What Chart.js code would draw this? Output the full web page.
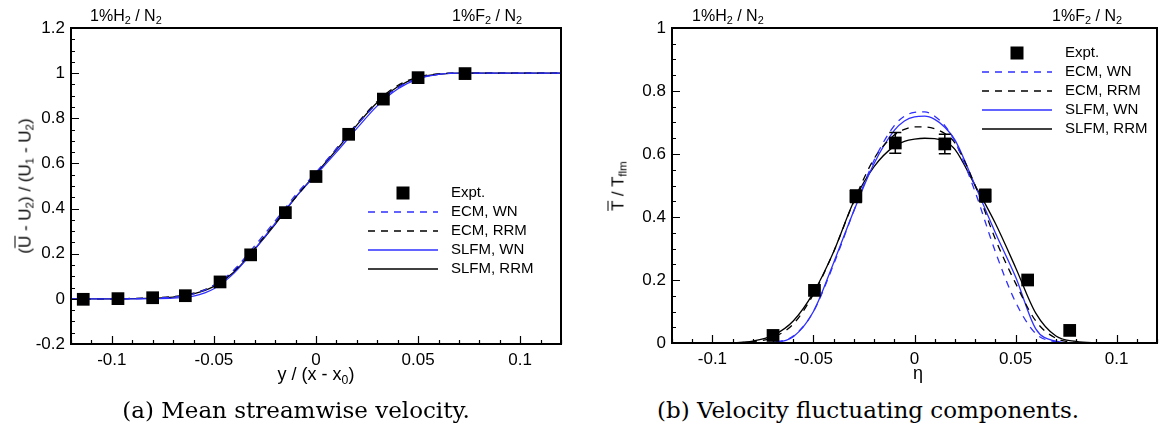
<!DOCTYPE html>
<html>
<head>
<meta charset="utf-8">
<script src="https://cdn.jsdelivr.net/npm/chart.js@4.4.1/dist/chart.umd.min.js"></script>
<style>
  html, body { margin: 0; padding: 0; background: #fff; }
  #wrap { position: relative; width: 1166px; height: 429px; overflow: hidden;
          font-family: "Liberation Sans", Arial, sans-serif; color: #000; }
  canvas { position: absolute; top: 0; }
  .lbl { position: absolute; white-space: nowrap; font-size: 16px; line-height: 1; }
  .lbl sub { font-size: 68%; vertical-align: -0.3em; line-height: 0; }
  .ytitle { transform: translate(-50%, -50%) rotate(-90deg); font-size: 17px; }
  .xtitle { transform: translate(-50%, -50%); font-size: 18px; }
  .cap { position: absolute; white-space: nowrap; font-family: "DejaVu Serif", serif;
         font-size: 23px; line-height: 1; transform: translate(-50%, -50%); }
  .ov { text-decoration: overline; }
</style>
</head>
<body>
<div id="wrap">
  <canvas id="velChart" width="583" height="390" style="left:0"></canvas>
  <canvas id="tempChart" width="583" height="390" style="left:583px"></canvas>

  <div class="lbl" style="left:90px; top:8px">1%H<sub>2</sub> / N<sub>2</sub></div>
  <div class="lbl" style="right:644px; top:8px">1%F<sub>2</sub> / N<sub>2</sub></div>
  <div class="lbl" style="left:692px; top:8px">1%H<sub>2</sub> / N<sub>2</sub></div>
  <div class="lbl" style="right:44px; top:8px">1%F<sub>2</sub> / N<sub>2</sub></div>

  <div class="lbl xtitle" style="left:316px; top:374px">y / (x - x<sub>0</sub>)</div>
  <div class="lbl xtitle" style="left:918px; top:373px">&eta;</div>
  <div class="lbl ytitle" style="left:25px; top:186px">(<span class="ov">U</span> - U<sub>2</sub>) / (U<sub>1</sub> - U<sub>2</sub>)</div>
  <div class="lbl ytitle" style="left:618px; top:186px"><span class="ov">T</span> / T<sub>flm</sub></div>

  <div class="cap" style="left:296px; top:410px">(a) Mean streamwise velocity.</div>
  <div class="cap" style="left:868px; top:410px">(b) Velocity fluctuating components.</div>
</div>
<script>
// tick labels shared by both panels
const xTickVals = [-0.1, -0.05, 0, 0.05, 0.1];
const velYTicks = [-0.2, 0, 0.2, 0.4, 0.6, 0.8, 1, 1.2];
const tmpYTicks = [0, 0.2, 0.4, 0.6, 0.8, 1];

// ---- (a) mean streamwise velocity ----
const velGrid = [-0.12, -0.11, -0.10, -0.09, -0.08, -0.07, -0.06, -0.05, -0.04, -0.03, -0.02, -0.01,
                 0, 0.01, 0.02, 0.03, 0.04, 0.05, 0.06, 0.07, 0.08, 0.09, 0.10, 0.11, 0.12];
const velEcmWn   = [0, 0, 0, 0.001, 0.004, 0.008, 0.022, 0.06, 0.13, 0.235, 0.345, 0.46,
                    0.56, 0.665, 0.77, 0.865, 0.935, 0.978, 0.995, 1, 1, 1, 1, 1, 1];
const velEcmRrm  = [0, 0, 0, 0.002, 0.005, 0.01, 0.025, 0.06, 0.125, 0.225, 0.335, 0.45,
                    0.555, 0.665, 0.775, 0.875, 0.945, 0.983, 0.997, 1, 1, 1, 1, 1, 1];
const velSlfmWn  = [0, 0, 0, 0, 0.001, 0.003, 0.012, 0.045, 0.115, 0.22, 0.335, 0.45,
                    0.55, 0.65, 0.755, 0.855, 0.93, 0.975, 0.995, 1, 1, 1, 1, 1, 1];
const velSlfmRrm = [0, 0, 0, 0.001, 0.003, 0.008, 0.022, 0.055, 0.12, 0.22, 0.33, 0.45,
                    0.555, 0.66, 0.77, 0.87, 0.94, 0.98, 0.995, 1, 1, 1, 1, 1, 1];
const velExptX = [-0.114, -0.097, -0.080, -0.064, -0.047, -0.032, -0.015, 0.000, 0.016, 0.033, 0.050, 0.073];
const velExptY = [-0.002, 0.001, 0.005, 0.014, 0.075, 0.195, 0.382, 0.542, 0.729, 0.885, 0.98, 0.998];

// ---- (b) temperature ----
const tmpGrid = [-0.12, -0.10, -0.09, -0.08, -0.07, -0.06, -0.05, -0.04, -0.03, -0.02, -0.01, -0.005,
                 0, 0.005, 0.01, 0.015, 0.02, 0.03, 0.04, 0.05, 0.06, 0.07, 0.08, 0.09, 0.10, 0.12];
const tmpEcmWn   = [0, 0, 0, 0, 0.003, 0.022, 0.10, 0.25, 0.42, 0.58, 0.69, 0.72,
                    0.732, 0.734, 0.72, 0.69, 0.64, 0.48, 0.29, 0.13, 0.03, 0.004, 0, 0, 0, 0];
const tmpEcmRrm  = [0, 0, 0.001, 0.004, 0.018, 0.06, 0.155, 0.29, 0.45, 0.585, 0.66, 0.678,
                    0.686, 0.686, 0.68, 0.665, 0.635, 0.50, 0.33, 0.19, 0.07, 0.015, 0.002, 0, 0, 0];
const tmpSlfmWn  = [0, 0, 0, 0, 0.002, 0.02, 0.10, 0.255, 0.42, 0.57, 0.675, 0.705,
                    0.718, 0.72, 0.71, 0.685, 0.645, 0.50, 0.35, 0.21, 0.045, 0.006, 0, 0, 0, 0];
const tmpSlfmRrm = [0, 0, 0.001, 0.006, 0.024, 0.07, 0.16, 0.29, 0.45, 0.56, 0.625, 0.64,
                    0.647, 0.65, 0.649, 0.64, 0.615, 0.50, 0.38, 0.24, 0.095, 0.022, 0.005, 0.001, 0, 0];
const tmpExptX   = [-0.070, -0.0495, -0.029, -0.0095, 0.015, 0.035, 0.056, 0.0768];
const tmpExptY   = [0.024, 0.167, 0.466, 0.635, 0.632, 0.468, 0.200, 0.040];
const tmpExptErr = [0, 0, 0.02, 0.033, 0.031, 0.02, 0, 0];

const BLUE = "#2f2fff";
const FONT = '"Liberation Sans", Arial, sans-serif';

const pts = (xs, ys) => xs.map((x, i) => ({ x: x, y: ys[i] }));
const fmt = v => String(+v.toFixed(3));

function curve(label, xs, ys, color, dashed) {
  return {
    label: label,
    data: pts(xs, ys),
    showLine: true,
    borderColor: color,
    borderWidth: 1.3,
    borderDash: dashed ? [7, 6] : [],
    pointRadius: 0,
    cubicInterpolationMode: "monotone",
    fill: false,
  };
}

function expt(xs, ys, errs) {
  return {
    label: "Expt.",
    data: pts(xs, ys),
    errors: errs,
    showLine: false,
    pointStyle: "rect",
    pointRadius: 9,
    backgroundColor: "#000",
    borderWidth: 0,
  };
}

// box around the plot + inward ticks on bottom/left
const frameTicks = {
  id: "frameTicks",
  afterDatasetsDraw(chart, args, o) {
    const { ctx, chartArea: a, scales: { x, y } } = chart;
    ctx.save();
    ctx.strokeStyle = "#000";
    ctx.lineWidth = 1.2;
    ctx.beginPath();
    for (let i = Math.ceil(x.min / o.xMinor - 1e-6); i <= Math.floor(x.max / o.xMinor + 1e-6); i++) {
      const v = i * o.xMinor;
      const major = Math.abs(v / o.xMajor - Math.round(v / o.xMajor)) < 1e-6;
      const px = Math.round(x.getPixelForValue(v)) + 0.5;
      ctx.moveTo(px, a.bottom);
      ctx.lineTo(px, a.bottom - (major ? 8 : 4));
    }
    for (let i = Math.ceil(y.min / o.yMinor - 1e-6); i <= Math.floor(y.max / o.yMinor + 1e-6); i++) {
      const v = i * o.yMinor;
      const major = Math.abs(v / o.yMajor - Math.round(v / o.yMajor)) < 1e-6;
      const py = Math.round(y.getPixelForValue(v)) + 0.5;
      ctx.moveTo(a.left, py);
      ctx.lineTo(a.left + (major ? 8 : 4), py);
    }
    ctx.stroke();
    ctx.lineWidth = 2;
    ctx.strokeRect(a.left, a.top, a.right - a.left, a.bottom - a.top);
    ctx.restore();
  },
};

const errorBars = {
  id: "errorBars",
  afterDatasetsDraw(chart) {
    const { ctx, scales: { x, y } } = chart;
    ctx.save();
    ctx.strokeStyle = "#000";
    ctx.lineWidth = 1.5;
    chart.data.datasets.forEach(ds => {
      if (!ds.errors) return;
      ds.data.forEach((p, i) => {
        const e = ds.errors[i];
        if (!e) return;
        const px = x.getPixelForValue(p.x);
        const y0 = y.getPixelForValue(p.y - e), y1 = y.getPixelForValue(p.y + e);
        ctx.beginPath();
        ctx.moveTo(px, y0); ctx.lineTo(px, y1);
        ctx.moveTo(px - 6, y0); ctx.lineTo(px + 6, y0);
        ctx.moveTo(px - 6, y1); ctx.lineTo(px + 6, y1);
        ctx.stroke();
      });
    });
    ctx.restore();
  },
};

const boxLegend = {
  id: "boxLegend",
  afterDraw(chart, args, o) {
    const ctx = chart.ctx;
    const mid = (o.lineX0 + o.lineX1) / 2;
    ctx.save();
    ctx.font = "15px " + FONT;
    ctx.textBaseline = "middle";
    chart.data.datasets.forEach((ds, i) => {
      const yy = o.top + i * o.gap;
      if (ds.showLine) {
        ctx.strokeStyle = ds.borderColor;
        ctx.lineWidth = ds.borderWidth;
        ctx.setLineDash(ds.borderDash);
        ctx.beginPath();
        ctx.moveTo(o.lineX0, yy);
        ctx.lineTo(o.lineX1, yy);
        ctx.stroke();
        ctx.setLineDash([]);
      } else {
        ctx.fillStyle = "#000";
        ctx.fillRect(mid - 6.5, yy - 6.5, 13, 13);
      }
      ctx.fillStyle = "#000";
      ctx.fillText(ds.label, o.textX, yy);
    });
    ctx.restore();
  },
};

function buildChart(id, datasets, o) {
  const tickFont = { family: FONT, size: 17 };
  return new Chart(document.getElementById(id), {
    type: "scatter",
    data: { datasets: datasets },
    options: {
      responsive: false,
      animation: false,
      events: [],
      layout: { padding: { top: o.padTop, right: o.padRight, left: 0, bottom: 0 } },
      plugins: {
        legend: { display: false },
        tooltip: { enabled: false },
        boxLegend: o.legend,
        frameTicks: { xMinor: 0.01, xMajor: 0.05, yMinor: 0.05, yMajor: 0.2 },
      },
      scales: {
        x: {
          type: "linear", bounds: "data", min: -0.12, max: 0.12,
          grid: { display: false, drawTicks: false }, border: { display: false },
          ticks: { padding: 6, font: tickFont, color: "#000", callback: fmt, maxRotation: 0, autoSkip: false },
          afterBuildTicks: s => { s.ticks = xTickVals.map(v => ({ value: v })); },
          afterFit: s => { s.height = o.xAxisH; },
        },
        y: {
          type: "linear", bounds: "data", min: o.yMin, max: o.yMax,
          grid: { display: false, drawTicks: false }, border: { display: false },
          ticks: { padding: 6, font: tickFont, color: "#000", callback: fmt, autoSkip: false },
          afterBuildTicks: s => { s.ticks = o.yTicks.map(v => ({ value: v })); },
          afterFit: s => { s.width = o.yAxisW; },
        },
      },
    },
    plugins: [frameTicks, errorBars, boxLegend],
  });
}

buildChart("velChart", [
  expt(velExptX, velExptY, null),
  curve("ECM, WN", velGrid, velEcmWn, BLUE, true),
  curve("ECM, RRM", velGrid, velEcmRrm, "#000", true),
  curve("SLFM, WN", velGrid, velSlfmWn, BLUE, false),
  curve("SLFM, RRM", velGrid, velSlfmRrm, "#000", false),
], {
  padTop: 28, padRight: 22, xAxisH: 46, yAxisW: 71, yMin: -0.2, yMax: 1.2, yTicks: velYTicks,
  legend: { top: 193, gap: 19, lineX0: 368, lineX1: 438, textX: 451 },
});

buildChart("tempChart", [
  expt(tmpExptX, tmpExptY, tmpExptErr),
  curve("ECM, WN", tmpGrid, tmpEcmWn, BLUE, true),
  curve("ECM, RRM", tmpGrid, tmpEcmRrm, "#000", true),
  curve("SLFM, WN", tmpGrid, tmpSlfmWn, BLUE, false),
  curve("SLFM, RRM", tmpGrid, tmpSlfmRrm, "#000", false),
], {
  padTop: 28, padRight: 3, xAxisH: 47, yAxisW: 89, yMin: 0, yMax: 1, yTicks: tmpYTicks,
  legend: { top: 53, gap: 19, lineX0: 399, lineX1: 469, textX: 482 },
});
</script>
</body>
</html>
